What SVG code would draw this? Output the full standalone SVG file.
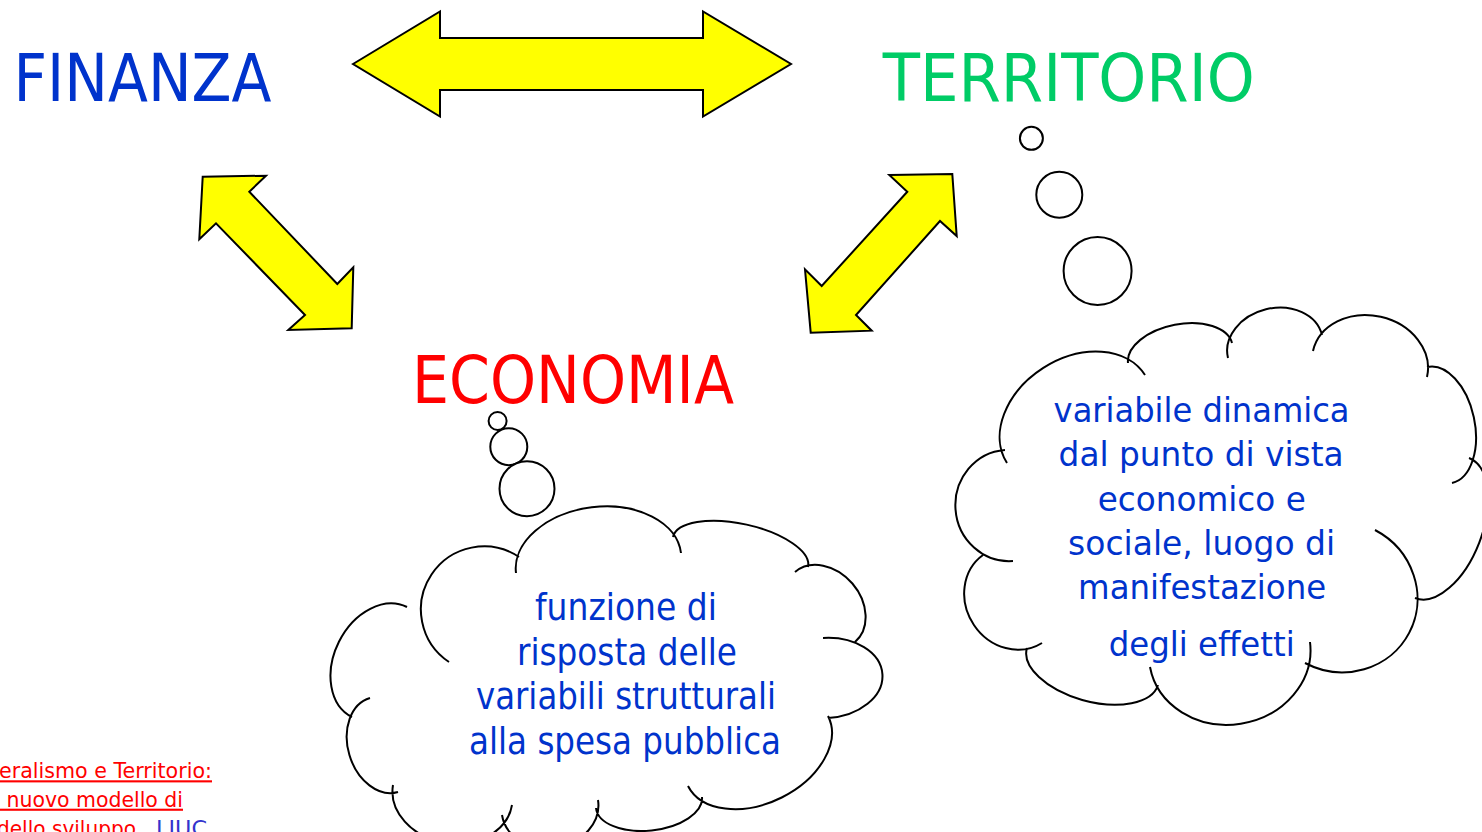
<svg xmlns="http://www.w3.org/2000/svg" width="1482" height="832" viewBox="0 0 1482 832">
<style>
.arrow{fill:#FFFF00;stroke:#000;stroke-width:2;stroke-linejoin:miter}
.cloud{fill:none;stroke:#000;stroke-width:2;stroke-linecap:butt}
.bubble{fill:#fff;stroke:#000;stroke-width:2}
.title{font-family:"DejaVu Sans","Liberation Sans",sans-serif;font-size:66px}
.ctext{font-family:"DejaVu Sans","Liberation Sans",sans-serif;fill:#0033CC;text-anchor:middle}
.foot{font-family:"DejaVu Sans","Liberation Sans",sans-serif;font-size:21px;fill:#FF0000;text-decoration:underline}
</style>
<rect width="1482" height="832" fill="#fff"/>
<g id="connectors">
<polygon class="arrow" points="353,64 440,11.5 440,38 703,38 703,11.5 791,64 703,116.5 703,90 440,90 440,116.5"/>
<polygon class="arrow" points="202.7,176.7 266,175.7 249.3,191.7 337.3,284 353.3,267.3 351.7,328.3 288.3,330 305,315 216,223.3 199.3,239.3"/>
<polygon class="arrow" points="889.3,175 952.3,174 956.7,236 940,221 856,315 871.7,330.7 810.7,332.7 805,269.3 821.7,286 907.3,191.7"/>
</g>
<g id="finanza">
<text class="title" x="142.5" y="100.7" fill="#0033CC" text-anchor="middle" textLength="258" lengthAdjust="spacingAndGlyphs">FINANZA</text>
</g>
<g id="territorio">
<text class="title" x="1068.7" y="100.5" fill="#00CC66" text-anchor="middle" textLength="372" lengthAdjust="spacingAndGlyphs">TERRITORIO</text>
</g>
<g id="economia">
<text class="title" x="573" y="402.7" fill="#FF0000" text-anchor="middle" font-size="65" textLength="322" lengthAdjust="spacingAndGlyphs">ECONOMIA</text>
</g>
<g id="economia-thought">
<circle class="bubble" cx="497.6" cy="421" r="9"/>
<circle class="bubble" cx="508.8" cy="446.7" r="18.5"/>
<circle class="bubble" cx="527" cy="488.7" r="27.5"/>
<path class="cloud" d="M352,717 A61 45 -63.4 0 1 407,607
M449,662 A63 63 0 0 1 519,557
M516,573 A83 56 -6.9 0 1 681,553
M673,537 A69 28 12.5 0 1 808,567
M795,572 A46 36 49.4 0 1 855,642
M823,638 A40 57 86.4 0 1 828,718
M828,716 A78 52 153.8 0 1 688,786
M702,797 A53 28 173.9 0 1 596,808
M598,800 A48 40 171.2 0 1 502,815
M512,805 A60 48 189.6 0 1 393,785
M398,792 A49 36 253 0 1 370,698"/>
<text class="ctext" font-size="38">
<tspan x="632" y="620" textLength="182" lengthAdjust="spacingAndGlyphs">funzione di</tspan>
<tspan x="633" y="665" textLength="220" lengthAdjust="spacingAndGlyphs">risposta delle</tspan>
<tspan x="632" y="709.3" textLength="300" lengthAdjust="spacingAndGlyphs">variabili strutturali</tspan>
<tspan x="625" y="754" textLength="312" lengthAdjust="spacingAndGlyphs">alla spesa pubblica</tspan>
</text>
</g>
<g id="territorio-thought">
<circle class="bubble" cx="1031.4" cy="138.3" r="11.5"/>
<circle class="bubble" cx="1059.3" cy="194.7" r="23"/>
<circle class="bubble" cx="1097.6" cy="271" r="34"/>
<path class="cloud" d="M1007,463 A81 60 -32.4 0 1 1145,375
M1128,363 A53 30 -11.1 0 1 1232,343
M1228,358 A48 38 -14 0 1 1322,335
M1313,351 A58 48 12.8 0 1 1427,377
M1427,367 A59 35 78.2 0 1 1452,483
M1469,458 A75 40 111 0 1 1415,598
M1375,530 A75 78 117.7 0 1 1305,663
M1310,642 A81 72 171.1 0 1 1150,667
M1158,685 A68 35 195.3 0 1 1027,648
M1042,643 A53 48 236.5 0 1 983,555
M1013,561 A55 53 265.9 0 1 1005,450"/>
<text class="ctext" font-size="34">
<tspan x="1207" y="421.7" textLength="296" lengthAdjust="spacingAndGlyphs">variabile dinamica</tspan>
<tspan x="1206.5" y="465.7" textLength="285" lengthAdjust="spacingAndGlyphs">dal punto di vista</tspan>
<tspan x="1207.2" y="510.7" textLength="208" lengthAdjust="spacingAndGlyphs">economico e</tspan>
<tspan x="1207" y="555" textLength="267" lengthAdjust="spacingAndGlyphs">sociale, luogo di</tspan>
<tspan x="1207.5" y="599.3" textLength="248" lengthAdjust="spacingAndGlyphs">manifestazione</tspan>
<tspan x="1201.7" y="656" textLength="186" lengthAdjust="spacingAndGlyphs">degli effetti</tspan>
</text>
</g>
<g id="footer">
<text class="foot" x="-1" y="778.3" textLength="213" lengthAdjust="spacingAndGlyphs">eralismo e Territorio:</text>
<text class="foot" x="0" y="806.7" textLength="183" lengthAdjust="spacingAndGlyphs">&#160;nuovo modello di</text>
<text class="foot" x="-3" y="835.5"><tspan textLength="145" lengthAdjust="spacingAndGlyphs">dello sviluppo.</tspan><tspan x="156" fill="#3333CC" textLength="51" lengthAdjust="spacingAndGlyphs">LIUC</tspan></text>
</g>
</svg>
